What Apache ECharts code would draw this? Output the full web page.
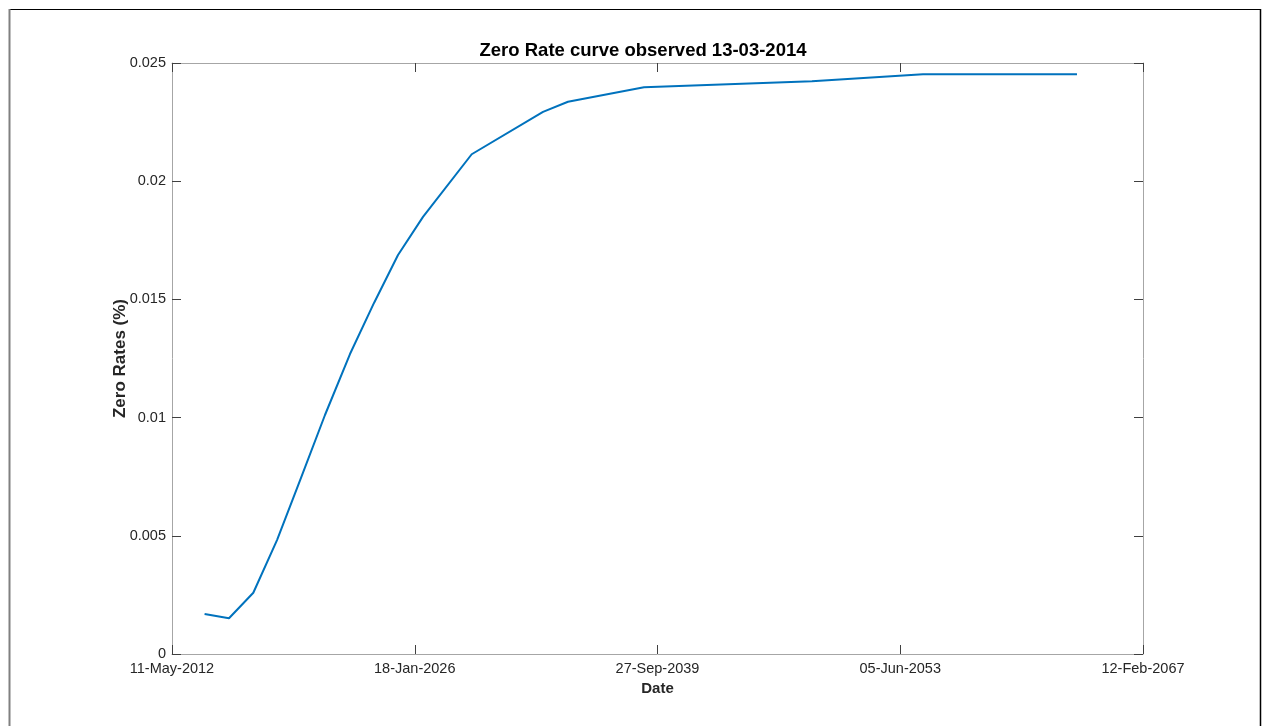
<!DOCTYPE html>
<html>
<head>
<meta charset="utf-8">
<script src="https://cdn.jsdelivr.net/npm/echarts@6/dist/echarts.min.js"></script>
<style>
html,body{margin:0;padding:0;background:#fff;}
#chart{width:1264px;height:726px;}
</style>
</head>
<body>
<div id="chart"></div>
<script>
// Reference date of the x axis (first tick)
const axisStart = '2012-05-11';
const tickStepDays = 5000;
const axisSpanDays = 20000;

// Curve knot dates and zero rates
const dates = [
  '2014-03-13','2015-07-29','2016-12-11','2018-04-13','2019-08-20',
  '2020-12-26','2022-05-25','2023-10-02','2025-02-07','2026-07-07',
  '2029-04-05','2033-04-13','2034-09-09','2038-12-23','2048-06-12',
  '2054-09-16','2063-05-24'
];
const zeroRates = [
  0.00169, 0.00151, 0.00259, 0.00482, 0.00745,
  0.01011, 0.01269, 0.01485, 0.01688, 0.01849,
  0.02114, 0.02293, 0.02336, 0.02397, 0.02423,
  0.02452, 0.02452
];
const yTicks = [0, 0.005, 0.01, 0.015, 0.02, 0.025];

const DAY = 86400000;
function toMs(s){ const p = s.split('-').map(Number); return Date.UTC(p[0], p[1]-1, p[2]); }
const baseMs = toMs(axisStart);
const MONTHS = ['Jan','Feb','Mar','Apr','May','Jun','Jul','Aug','Sep','Oct','Nov','Dec'];
function fmtDate(offset){
  const d = new Date(baseMs + Math.round(offset) * DAY);
  const dd = String(d.getUTCDate()).padStart(2,'0');
  return dd + '-' + MONTHS[d.getUTCMonth()] + '-' + d.getUTCFullYear();
}
const seriesData = dates.map((s,i) => [(toMs(s) - baseMs) / DAY, zeroRates[i]]);

const FONT = '"Liberation Sans", Arial, Helvetica, sans-serif';
const axisLineStyle = { color: '#a6a6a6', width: 1 };
const tickStyle = { color: '#404040', width: 1 };

const chart = echarts.init(document.getElementById('chart'), null, {renderer:'canvas'});
chart.setOption({
  backgroundColor: '#fff',
  animation: false,
  title: {
    text: 'Zero Rate curve observed 13-03-2014',
    left: 638, top: 36, textAlign: 'center',
    textStyle: { fontFamily: FONT, fontSize: 18.5, fontWeight: 'bold', color: '#000' }
  },
  grid: { left: 172, top: 63, right: 121, bottom: 72, containLabel: false },
  xAxis: [{
    type: 'value', position: 'bottom',
    min: 0, max: axisSpanDays, interval: tickStepDays,
    name: 'Date', nameLocation: 'middle', nameGap: 25,
    nameTextStyle: { fontFamily: FONT, fontSize: 15, fontWeight: 'bold', color: '#262626' },
    axisLine: { show: true, onZero: false, lineStyle: axisLineStyle },
    axisTick: { show: true, inside: true, length: 9, lineStyle: tickStyle },
    axisLabel: { formatter: v => fmtDate(v), fontFamily: FONT, fontSize: 14.5, color: '#262626', margin: 7 },
    splitLine: { show: false }
  },{
    type: 'value', position: 'top',
    min: 0, max: axisSpanDays, interval: tickStepDays,
    axisLine: { show: true, onZero: false, lineStyle: axisLineStyle },
    axisTick: { show: true, inside: true, length: 9, lineStyle: tickStyle },
    axisLabel: { show: false },
    splitLine: { show: false }
  }],
  yAxis: [{
    type: 'value', position: 'left',
    min: yTicks[0], max: yTicks[yTicks.length-1], interval: 0.005,
    name: 'Zero Rates (%)', nameLocation: 'middle', nameGap: 43, nameMoveOverlap: false,
    nameTextStyle: { fontFamily: FONT, fontSize: 17, fontWeight: 'bold', color: '#262626' },
    axisLine: { show: true, onZero: false, lineStyle: axisLineStyle },
    axisTick: { show: true, inside: true, length: 9, lineStyle: tickStyle },
    axisLabel: { formatter: v => String(parseFloat(v.toFixed(4))), fontFamily: FONT, fontSize: 14.5, color: '#262626', margin: 6 },
    splitLine: { show: false }
  },{
    type: 'value', position: 'right',
    min: yTicks[0], max: yTicks[yTicks.length-1], interval: 0.005,
    axisLine: { show: true, onZero: false, lineStyle: axisLineStyle },
    axisTick: { show: true, inside: true, length: 9, lineStyle: tickStyle },
    axisLabel: { show: false },
    splitLine: { show: false }
  }],
  series: [{
    type: 'line', xAxisIndex: 0, yAxisIndex: 0,
    data: seriesData, showSymbol: false, smooth: false,
    lineStyle: { color: '#0072BD', width: 2 },
    itemStyle: { color: '#0072BD' }
  }],
  graphic: [
    { type: 'line', shape: { x1: 9, y1: 9.5, x2: 1261, y2: 9.5 }, style: { stroke: '#000', lineWidth: 1 } },
    { type: 'line', shape: { x1: 9.5, y1: 9, x2: 9.5, y2: 726 }, style: { stroke: '#808080', lineWidth: 2 } },
    { type: 'line', shape: { x1: 1260.5, y1: 9, x2: 1260.5, y2: 726 }, style: { stroke: '#000', lineWidth: 1.5 } }
  ]
});
</script>
</body>
</html>
